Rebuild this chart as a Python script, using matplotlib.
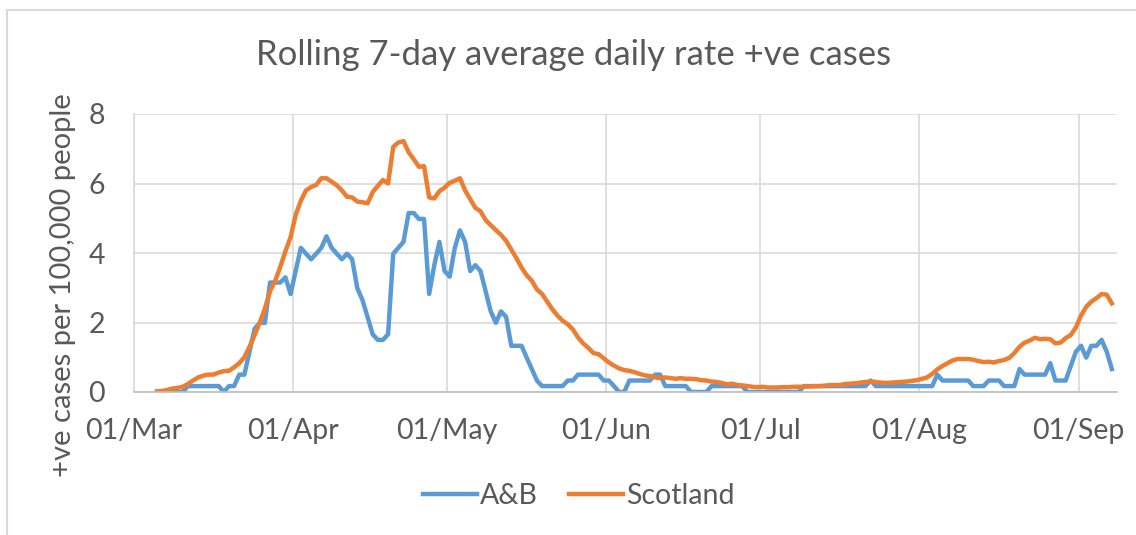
import matplotlib
matplotlib.use("Agg")
import matplotlib.pyplot as plt
import matplotlib.dates as mdates
from matplotlib.patches import Rectangle
import pandas as pd

plt.rcParams['font.family'] = ['Lato', 'DejaVu Sans']

# daily values from 05/Mar/2020, split by month
ab_mar = [0, 0, 0, 0, 0, 0, 0.17, 0.17, 0.17, 0.17, 0.17, 0.17, 0.17, 0, 0.17, 0.17,
          0.5, 0.5, 1.16, 1.82, 1.99, 1.99, 3.15, 3.15, 3.15, 3.3, 2.82]
ab_apr = [3.48, 4.15, 3.98, 3.82, 3.98, 4.15, 4.48, 4.15, 3.98, 3.82,
          3.98, 3.82, 2.99, 2.65, 2.16, 1.66, 1.5, 1.5, 1.66, 3.98,
          4.15, 4.32, 5.15, 5.15, 4.98, 4.98, 2.82, 3.65, 4.32, 3.48]
ab_may = [3.32, 4.15, 4.65, 4.32, 3.48, 3.65, 3.48, 2.9, 2.32, 1.99,
          2.32, 2.16, 1.33, 1.33, 1.33, 0.99, 0.66, 0.33, 0.17, 0.17,
          0.17, 0.17, 0.17, 0.33, 0.33, 0.5, 0.5, 0.5, 0.5, 0.5, 0.33]
ab_jun = [0.33, 0.17, 0, 0, 0.33, 0.33, 0.33, 0.33, 0.33, 0.5,
          0.5, 0.17, 0.17, 0.17, 0.17, 0.17, 0, 0, 0, 0,
          0.17, 0.17, 0.17, 0.17, 0.17, 0.17, 0.17, 0, 0, 0]
ab_jul = [0, 0, 0, 0, 0, 0, 0, 0, 0.17, 0.17, 0.17, 0.17, 0.17, 0.17, 0.17,
          0.17, 0.17, 0.17, 0.17, 0.17, 0.17, 0.33, 0.17, 0.17, 0.17, 0.17,
          0.17, 0.17, 0.17, 0.17, 0.17]
ab_aug = [0.17, 0.17, 0.17, 0.5, 0.33, 0.33, 0.33, 0.33, 0.33, 0.33,
          0.17, 0.17, 0.17, 0.33, 0.33, 0.33, 0.17, 0.17, 0.17, 0.66,
          0.5, 0.5, 0.5, 0.5, 0.5, 0.83, 0.33, 0.33, 0.33, 0.75, 1.16]
ab_sep = [1.33, 0.99, 1.33, 1.33, 1.5, 1.16, 0.66]

sc_mar = [0.02, 0.03, 0.06, 0.1, 0.12, 0.15, 0.23, 0.33, 0.42, 0.47,
          0.5, 0.5, 0.56, 0.6, 0.61, 0.71, 0.83, 1.0, 1.3, 1.64,
          2.0, 2.4, 2.9, 3.2, 3.6, 4.05, 4.45]
sc_apr = [5.1, 5.5, 5.8, 5.9, 5.96, 6.15, 6.15, 6.05, 5.95, 5.8,
          5.62, 5.6, 5.48, 5.46, 5.43, 5.75, 5.93, 6.1, 6.0, 7.05,
          7.18, 7.22, 6.9, 6.7, 6.48, 6.5, 5.6, 5.57, 5.78, 5.88]
sc_may = [6.02, 6.08, 6.15, 5.8, 5.55, 5.3, 5.2, 4.95, 4.8, 4.66,
          4.52, 4.35, 4.1, 3.85, 3.58, 3.36, 3.2, 2.95, 2.82, 2.6,
          2.38, 2.2, 2.05, 1.95, 1.8, 1.57, 1.4, 1.27, 1.12, 1.09, 0.97]
sc_jun = [0.85, 0.76, 0.68, 0.63, 0.61, 0.57, 0.52, 0.48, 0.46, 0.42,
          0.4, 0.42, 0.4, 0.38, 0.4, 0.38, 0.38, 0.37, 0.34, 0.33,
          0.3, 0.29, 0.26, 0.22, 0.24, 0.2, 0.19, 0.17, 0.15, 0.14]
sc_jul = [0.15, 0.13, 0.13, 0.13, 0.14, 0.14, 0.15, 0.15, 0.15, 0.16,
          0.17, 0.17, 0.18, 0.2, 0.2, 0.2, 0.23, 0.24, 0.25, 0.27,
          0.29, 0.3, 0.29, 0.27, 0.26, 0.27, 0.28, 0.29, 0.3, 0.32, 0.34]
sc_aug = [0.38, 0.42, 0.52, 0.65, 0.75, 0.83, 0.91, 0.95, 0.95, 0.95,
          0.93, 0.89, 0.86, 0.87, 0.85, 0.89, 0.92, 0.98, 1.12, 1.3,
          1.42, 1.48, 1.56, 1.52, 1.53, 1.52, 1.4, 1.42, 1.55, 1.64, 1.86]
sc_sep = [2.2, 2.45, 2.6, 2.7, 2.82, 2.8, 2.55]

ab = ab_mar + ab_apr + ab_may + ab_jun + ab_jul + ab_aug + ab_sep
scotland = sc_mar + sc_apr + sc_may + sc_jun + sc_jul + sc_aug + sc_sep
dates = pd.date_range('2020-03-05', periods=len(ab), freq='D')
# Excel puts each day in the middle of its slot
x = dates + pd.Timedelta(hours=12)

text_col = '#595959'
grid_col = '#d9d9d9'

fig = plt.figure(figsize=(11.36, 5.35), dpi=100, facecolor='white')
fig.patches.append(Rectangle((7 / 1136, -0.1), 1.2, 1 - 9.5 / 535 + 0.1,
                             transform=fig.transFigure, fill=False,
                             edgecolor=grid_col, linewidth=1.5))
ax = fig.add_axes([134 / 1136, 1 - 392 / 535, (1117 - 134) / 1136, (392 - 114) / 535])

ax.plot(x, ab, color='#5B9BD5', linewidth=3.2, label='A&B', solid_joinstyle='round')
ax.plot(x, scotland, color='#ED7D31', linewidth=3.2, label='Scotland', solid_joinstyle='round')

ax.set_ylim(0, 8)
ax.set_yticks([0, 2, 4, 6, 8])
ax.set_xlim(pd.Timestamp('2020-03-01'), pd.Timestamp('2020-09-08 12:00'))
ticks = pd.date_range('2020-03-01', '2020-09-01', freq='MS')
ax.set_xticks(ticks)
ax.xaxis.set_major_formatter(mdates.DateFormatter('%d/%b'))

ax.grid(True, color=grid_col, linewidth=1.2)
ax.set_axisbelow(True)
for side in ['top', 'right']:
    ax.spines[side].set_visible(False)
ax.spines['left'].set_color(grid_col)
ax.spines['left'].set_linewidth(1.2)
ax.spines['bottom'].set_color('#bfbfbf')
ax.spines['bottom'].set_linewidth(1.2)
ax.tick_params(axis='both', length=0, labelsize=20.5, labelcolor=text_col)
ax.tick_params(axis='y', pad=21)
ax.tick_params(axis='x', pad=19)

fig.text(574 / 1136, 1 - 55 / 535, 'Rolling 7-day average daily rate +ve cases',
         ha='center', va='center', fontsize=25, color=text_col)
fig.text(63 / 1136, 1 - 285 / 535, '+ve cases per 100,000 people', rotation=90,
         ha='center', va='center', fontsize=21, color=text_col)

fig.legend(loc='center', bbox_to_anchor=(579 / 1136, 1 - 496 / 535), ncol=2,
           frameon=False, fontsize=20.5, labelcolor=text_col, handlelength=1.9,
           handletextpad=0.1, columnspacing=1.1)

plt.savefig('out.png', dpi=100, facecolor='white')
